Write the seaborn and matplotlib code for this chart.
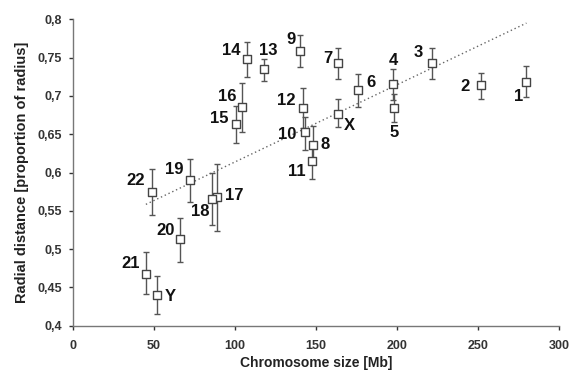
import numpy as np
import pandas as pd
import matplotlib
matplotlib.use("Agg")
import matplotlib.pyplot as plt
import seaborn as sns

# ---- data ----
chromosomes = ["1", "2", "3", "4", "5", "6", "7", "8", "9", "10", "11", "12",
               "13", "14", "15", "16", "17", "18", "19", "20", "21", "22", "X", "Y"]
size_mb = [280, 251.9, 221.4, 197.7, 198.4, 175.9, 163.6, 148.3, 140, 143.2, 147.7, 142.2,
           118, 107.4, 100.6, 104.5, 88.7, 85.9, 72.4, 66.2, 45, 48.8, 163.4, 51.6]
radial = [0.718, 0.714, 0.743, 0.715, 0.684, 0.708, 0.743, 0.636, 0.759, 0.653, 0.615, 0.684,
          0.735, 0.748, 0.663, 0.685, 0.568, 0.566, 0.590, 0.513, 0.468, 0.575, 0.677, 0.440]
err_up = [0.739, 0.730, 0.762, 0.735, 0.703, 0.729, 0.762, 0.661, 0.780, 0.673, 0.635, 0.710,
          0.748, 0.770, 0.687, 0.717, 0.611, 0.600, 0.618, 0.541, 0.496, 0.604, 0.696, 0.465]
err_low = [0.698, 0.696, 0.722, 0.695, 0.666, 0.685, 0.722, 0.612, 0.738, 0.630, 0.592, 0.658,
           0.719, 0.725, 0.638, 0.653, 0.524, 0.532, 0.561, 0.483, 0.441, 0.545, 0.659, 0.415]
x_ticks = [0, 50, 100, 150, 200, 250, 300]
y_ticks = [0.4, 0.45, 0.5, 0.55, 0.6, 0.65, 0.7, 0.75, 0.8]
y_tick_labels = ["0,4", "0,45", "0,5", "0,55", "0,6", "0,65", "0,7", "0,75", "0,8"]

# label offsets (pixels), styling only
label_offsets = {
    "1": (-8, -14), "2": (-16, -1), "3": (-13, 10), "4": (0, 24), "5": (0, -24),
    "6": (13, 7), "7": (-10, 4), "8": (12, 0), "9": (-9, 11), "10": (-18, -3),
    "11": (-15, -10), "12": (-17, 8), "13": (4, 19), "14": (-16, 9), "15": (-17, 6),
    "16": (-15, 11), "17": (18, 2), "18": (-12, -13), "19": (-16, 11), "20": (-15, 9),
    "21": (-15, 10), "22": (-16, 11), "X": (12, -12), "Y": (14, -1),
}

df = pd.DataFrame({"chrom": chromosomes, "size": size_mb, "radial": radial,
                   "up": err_up, "low": err_low})

sns.set_theme(style="white")
plt.rcParams["font.family"] = ["Liberation Sans", "DejaVu Sans"]

fig = plt.figure(figsize=(5.72, 3.73), dpi=100)
ax = fig.add_axes([0.1276, 0.1268, 0.8494, 0.8214])

# trend line (linear fit)
slope, intercept = np.polyfit(df["size"], df["radial"], 1)
xs = np.array([df["size"].min(), df["size"].max()])
trend = pd.DataFrame({"x": xs, "y": slope * xs + intercept})
sns.lineplot(data=trend, x="x", y="y", ax=ax, color="#666666", lw=1.0,
             linestyle=(0, (1.0, 2.0)), zorder=1)

# error bars
ax.errorbar(df["size"], df["radial"],
            yerr=[df["radial"] - df["low"], df["up"] - df["radial"]],
            fmt="none", ecolor="#555555", elinewidth=1.0, capsize=2.0, capthick=1.0, zorder=2)

sns.scatterplot(data=df, x="size", y="radial", ax=ax, marker="s", s=28,
                facecolor="white", edgecolor="#444444", linewidth=1.0, zorder=3)

for c, xv, yv in zip(chromosomes, size_mb, radial):
    dx, dy = label_offsets[c]
    ax.annotate(c, (xv, yv), xytext=(dx, dy), textcoords="offset pixels",
                ha="center", va="center", fontsize=12, fontweight="bold", color="#111111")

ax.set_xlim(0, 300)
ax.set_ylim(0.4, 0.8)
ax.set_xticks(x_ticks)
ax.set_xticklabels([str(t) for t in x_ticks])
ax.set_yticks(y_ticks)
ax.set_yticklabels(y_tick_labels)
ax.tick_params(axis="both", which="both", labelsize=9, colors="#333333",
               direction="out", length=3, width=1, left=True, bottom=True)
ax.tick_params(axis="x", pad=7)
ax.tick_params(axis="y", pad=5)
for lab in ax.get_xticklabels() + ax.get_yticklabels():
    lab.set_fontweight("bold")
ax.set_xlabel("Chromosome size [Mb]", fontsize=10, fontweight="bold", color="#222222",
              labelpad=3)
ax.set_ylabel("Radial distance [proportion of radius]", fontsize=10.5, fontweight="bold",
              color="#222222", labelpad=6)
sns.despine(ax=ax)
for s in ["left", "bottom"]:
    ax.spines[s].set_color("#777777")
    ax.spines[s].set_linewidth(1.0)
ax.grid(False)

fig.savefig("out.png", dpi=100)
